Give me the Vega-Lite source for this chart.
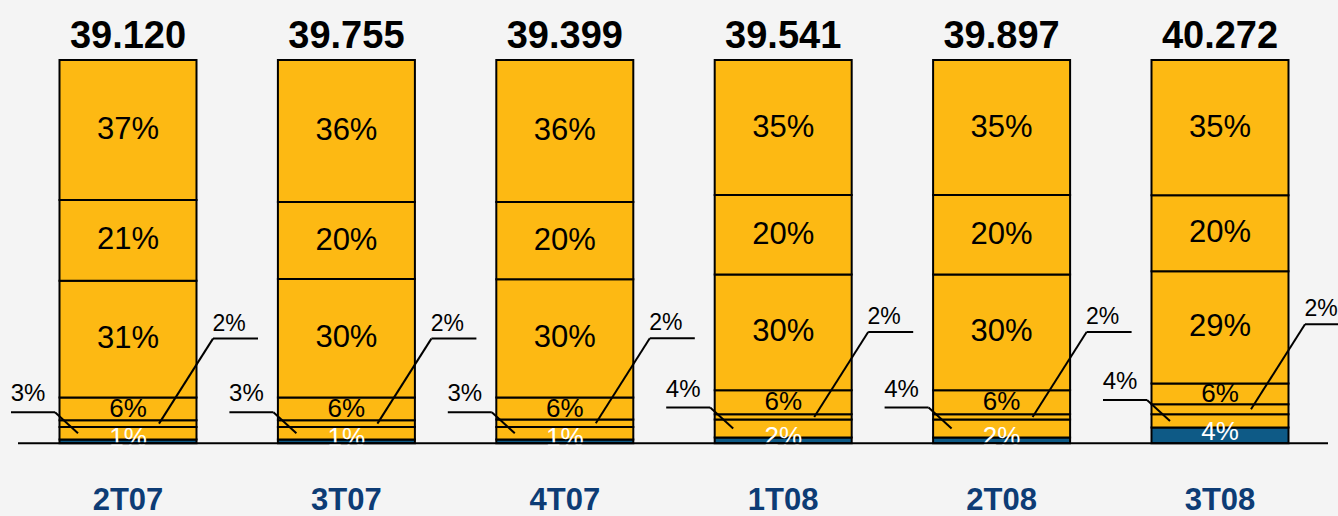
{
  "$schema": "https://vega.github.io/schema/vega-lite/v6.json",
  "width": 1338,
  "height": 516,
  "autosize": {"type": "none"},
  "padding": 0,
  "background": "#f4f4f4",
  "config": {"view": {"stroke": null}, "text": {"font": "Liberation Sans Narrow, Arial Narrow, Liberation Sans, sans-serif"}},
  "datasets": {
    "shares": [
      {"period": "2T07", "seg": "s1", "share": 0.97, "label": "1%"},
      {"period": "2T07", "seg": "s2", "share": 3.29, "label": "3%"},
      {"period": "2T07", "seg": "s3", "share": 1.75, "label": "2%"},
      {"period": "2T07", "seg": "s4", "share": 5.93, "label": "6%"},
      {"period": "2T07", "seg": "s5", "share": 30.44, "label": "31%"},
      {"period": "2T07", "seg": "s6", "share": 21.07, "label": "21%"},
      {"period": "2T07", "seg": "s7", "share": 36.55, "label": "37%"},
      {"period": "3T07", "seg": "s1", "share": 0.97, "label": "1%"},
      {"period": "3T07", "seg": "s2", "share": 3.29, "label": "3%"},
      {"period": "3T07", "seg": "s3", "share": 1.75, "label": "2%"},
      {"period": "3T07", "seg": "s4", "share": 5.93, "label": "6%"},
      {"period": "3T07", "seg": "s5", "share": 30.89, "label": "30%"},
      {"period": "3T07", "seg": "s6", "share": 20.1, "label": "20%"},
      {"period": "3T07", "seg": "s7", "share": 37.07, "label": "36%"},
      {"period": "4T07", "seg": "s1", "share": 0.97, "label": "1%"},
      {"period": "4T07", "seg": "s2", "share": 3.29, "label": "3%"},
      {"period": "4T07", "seg": "s3", "share": 1.93, "label": "2%"},
      {"period": "4T07", "seg": "s4", "share": 5.74, "label": "6%"},
      {"period": "4T07", "seg": "s5", "share": 30.89, "label": "30%"},
      {"period": "4T07", "seg": "s6", "share": 20.1, "label": "20%"},
      {"period": "4T07", "seg": "s7", "share": 37.07, "label": "36%"},
      {"period": "1T08", "seg": "s1", "share": 1.49, "label": "2%"},
      {"period": "1T08", "seg": "s2", "share": 4.7, "label": "4%"},
      {"period": "1T08", "seg": "s3", "share": 1.38, "label": "2%"},
      {"period": "1T08", "seg": "s4", "share": 6.27, "label": "6%"},
      {"period": "1T08", "seg": "s5", "share": 30.21, "label": "30%"},
      {"period": "1T08", "seg": "s6", "share": 20.7, "label": "20%"},
      {"period": "1T08", "seg": "s7", "share": 35.25, "label": "35%"},
      {"period": "2T08", "seg": "s1", "share": 1.49, "label": "2%"},
      {"period": "2T08", "seg": "s2", "share": 4.7, "label": "4%"},
      {"period": "2T08", "seg": "s3", "share": 1.38, "label": "2%"},
      {"period": "2T08", "seg": "s4", "share": 6.27, "label": "6%"},
      {"period": "2T08", "seg": "s5", "share": 30.21, "label": "30%"},
      {"period": "2T08", "seg": "s6", "share": 20.7, "label": "20%"},
      {"period": "2T08", "seg": "s7", "share": 35.25, "label": "35%"},
      {"period": "3T08", "seg": "s1", "share": 4.1, "label": "4%"},
      {"period": "3T08", "seg": "s2", "share": 3.47, "label": "4%"},
      {"period": "3T08", "seg": "s3", "share": 2.61, "label": "2%"},
      {"period": "3T08", "seg": "s4", "share": 5.4, "label": "6%"},
      {"period": "3T08", "seg": "s5", "share": 29.32, "label": "29%"},
      {"period": "3T08", "seg": "s6", "share": 19.84, "label": "20%"},
      {"period": "3T08", "seg": "s7", "share": 35.25, "label": "35%"}
    ],
    "totals": [
      {"period": "2T07", "total": "39.120"},
      {"period": "3T07", "total": "39.755"},
      {"period": "4T07", "total": "39.399"},
      {"period": "1T08", "total": "39.541"},
      {"period": "2T08", "total": "39.897"},
      {"period": "3T08", "total": "40.272"}
    ]
  },
  "data": {"name": "shares"},
  "transform": [
    {"stack": "share", "groupby": ["period"], "sort": [{"field": "seg", "order": "ascending"}], "as": ["y0", "y1"]},
    {"calculate": "(datum.y0 + datum.y1) / 2", "as": "mid"}
  ],
  "encoding": {
    "x": {"field": "period", "type": "nominal", "sort": null, "axis": null,
      "scale": {"type": "point", "padding": 0, "domain": ["2T07", "3T07", "4T07", "1T08", "2T08", "3T08"], "range": [128, 1220]}}
  },
  "layer": [
    {
      "mark": {"type": "bar", "width": 137, "stroke": "#000000", "strokeWidth": 2},
      "encoding": {
        "y": {"field": "y0", "type": "quantitative", "axis": null, "scale": {"domain": [-18.97, 115.65], "nice": false, "zero": false}},
        "y2": {"field": "y1"},
        "color": {"field": "seg", "type": "nominal", "legend": null,
          "scale": {"domain": ["s1", "s2", "s3", "s4", "s5", "s6", "s7"], "range": ["#0E5A86", "#FDB913", "#FDB913", "#FDB913", "#FDB913", "#FDB913", "#FDB913"]}}
      }
    },
    {
      "transform": [{"filter": "datum.seg == 's5' || datum.seg == 's6' || datum.seg == 's7'"}],
      "mark": {"type": "text", "fontSize": 31, "baseline": "middle", "color": "#000000"},
      "encoding": {"y": {"field": "mid", "type": "quantitative"}, "text": {"field": "label"}}
    },
    {
      "transform": [{"filter": "datum.seg == 's4'"}],
      "mark": {"type": "text", "fontSize": 26, "baseline": "middle", "color": "#000000"},
      "encoding": {"y": {"field": "mid", "type": "quantitative"}, "text": {"field": "label"}}
    },
    {
      "transform": [{"filter": "datum.seg == 's1'"}],
      "mark": {"type": "text", "fontSize": 26, "baseline": "middle", "color": "#ffffff", "yOffset": -3},
      "encoding": {"y": {"field": "mid", "type": "quantitative"}, "text": {"field": "label"}}
    },
    {
      "transform": [{"filter": "datum.seg == 's2'"}],
      "mark": {"type": "text", "fontSize": 24, "baseline": "middle", "color": "#000000", "xOffset": -100, "yOffset": -39},
      "encoding": {"y": {"field": "mid", "type": "quantitative"}, "text": {"field": "label"}}
    },
    {
      "transform": [{"filter": "datum.seg == 's2'"}],
      "mark": {"type": "rule", "color": "#000000", "strokeWidth": 2, "xOffset": -117, "x2Offset": -73, "yOffset": -21},
      "encoding": {"x2": {"field": "period"}, "y": {"field": "mid", "type": "quantitative"}}
    },
    {
      "transform": [{"filter": "datum.seg == 's2'"}],
      "mark": {"type": "rule", "color": "#000000", "strokeWidth": 2, "xOffset": -73, "x2Offset": -50, "yOffset": -21, "y2Offset": 0},
      "encoding": {"x2": {"field": "period"}, "y": {"field": "mid", "type": "quantitative"}, "y2": {"field": "mid"}}
    },
    {
      "transform": [{"filter": "datum.seg == 's3'"}],
      "mark": {"type": "text", "fontSize": 23, "baseline": "middle", "color": "#000000", "xOffset": 101, "yOffset": -100},
      "encoding": {"y": {"field": "mid", "type": "quantitative"}, "text": {"field": "label"}}
    },
    {
      "transform": [{"filter": "datum.seg == 's3'"}],
      "mark": {"type": "rule", "color": "#000000", "strokeWidth": 2, "xOffset": 85, "x2Offset": 130, "yOffset": -85},
      "encoding": {"x2": {"field": "period"}, "y": {"field": "mid", "type": "quantitative"}}
    },
    {
      "transform": [{"filter": "datum.seg == 's3'"}],
      "mark": {"type": "rule", "color": "#000000", "strokeWidth": 2, "xOffset": 85, "x2Offset": 31, "yOffset": -85, "y2Offset": 0},
      "encoding": {"x2": {"field": "period"}, "y": {"field": "mid", "type": "quantitative"}, "y2": {"field": "mid"}}
    },
    {
      "data": {"values": [{"from": "2T07", "to": "3T08", "base": 0}]},
      "transform": [],
      "mark": {"type": "rule", "color": "#000000", "strokeWidth": 2, "xOffset": -110, "x2Offset": 108},
      "encoding": {
        "x": {"field": "from", "type": "nominal", "sort": null, "axis": null, "scale": {"type": "point", "padding": 0, "domain": ["2T07", "3T07", "4T07", "1T08", "2T08", "3T08"], "range": [128, 1220]}},
        "x2": {"field": "to"},
        "y": {"field": "base", "type": "quantitative"}
      }
    },
    {
      "data": {"name": "totals"},
      "transform": [],
      "mark": {"type": "text", "fontSize": 38, "fontWeight": "bold", "baseline": "alphabetic", "color": "#000000", "yOffset": -12},
      "encoding": {"y": {"datum": 100, "type": "quantitative"}, "text": {"field": "total"}}
    },
    {
      "data": {"name": "totals"},
      "transform": [],
      "mark": {"type": "text", "fontSize": 31, "fontWeight": "bold", "baseline": "alphabetic", "color": "#0D3C75", "yOffset": 67},
      "encoding": {"y": {"datum": 0, "type": "quantitative"}, "text": {"field": "period"}}
    }
  ]
}
